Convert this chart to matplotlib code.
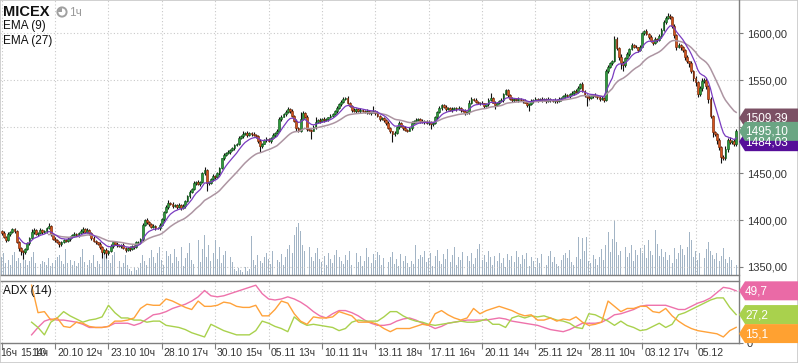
import numpy as np
import pandas as pd
import matplotlib
matplotlib.use("Agg")
import matplotlib.pyplot as plt
import matplotlib.transforms as mtransforms
from matplotlib.patches import Polygon, Circle, Wedge, Rectangle
from matplotlib.lines import Line2D

plt.rcParams['font.family'] = ['Liberation Sans', 'DejaVu Sans']

# ---------------- data ----------------
title = "MICEX"
interval = "1ч"
open0 = 1388
close = [
    1386, 1382, 1379, 1385, 1387, 1390, 1388, 1376, 1370, 1367,
    1366, 1369, 1375, 1381, 1387, 1389, 1385, 1386, 1389, 1387,
    1388, 1391, 1394, 1385, 1380, 1379, 1377, 1374, 1376, 1379,
    1378, 1380, 1382, 1384, 1385, 1384, 1386, 1388, 1390, 1387,
    1389, 1386, 1381, 1378, 1376, 1374, 1371, 1366, 1368, 1365,
    1367, 1372, 1376, 1374, 1373, 1372, 1373, 1370, 1368, 1370,
    1369, 1372, 1371, 1376, 1377, 1380, 1395, 1400, 1398, 1396,
    1393, 1394, 1392, 1391, 1395, 1401, 1409, 1414, 1418, 1417,
    1415, 1416, 1414, 1416, 1413, 1415, 1420, 1426, 1430, 1433,
    1440, 1441, 1439, 1441, 1450, 1454, 1440, 1440, 1444, 1447,
    1446, 1450, 1456, 1466, 1470, 1472, 1473, 1475, 1477, 1480,
    1482, 1488, 1490, 1492, 1493, 1491, 1493, 1492, 1491, 1490,
    1485, 1479, 1482, 1486, 1487, 1485, 1488, 1491, 1493, 1496,
    1508, 1511, 1514, 1516, 1519, 1517, 1512, 1506, 1499, 1496,
    1508, 1515, 1511, 1498, 1497, 1496, 1500, 1505, 1507, 1506,
    1508, 1507, 1508, 1510, 1512, 1514, 1517, 1520, 1524, 1527,
    1530, 1531, 1526, 1522, 1518, 1517, 1519, 1517, 1518, 1517,
    1516, 1517, 1515, 1516, 1517, 1515, 1512, 1508, 1509, 1507,
    1504, 1499, 1495, 1492, 1493, 1500, 1504, 1501, 1499, 1497,
    1496, 1499, 1504, 1506, 1507, 1508, 1506, 1505, 1506, 1504,
    1505, 1503, 1504, 1510, 1516, 1520, 1523, 1521, 1519, 1520,
    1518, 1519, 1520, 1519, 1520, 1518, 1517, 1515, 1516, 1526,
    1530, 1529, 1527, 1525, 1526, 1525, 1522, 1524, 1529, 1531,
    1526, 1523, 1526, 1528, 1529, 1535, 1539, 1534, 1530, 1529,
    1530, 1529, 1530, 1529, 1528, 1526, 1523, 1524, 1528, 1529,
    1530, 1529, 1530, 1529, 1530, 1528, 1530, 1529, 1528, 1529,
    1528, 1530, 1531, 1533, 1534, 1533, 1535, 1536, 1538, 1537,
    1542, 1546, 1538, 1534, 1532, 1531, 1533, 1534, 1533, 1532,
    1530, 1531, 1529, 1560, 1564, 1568, 1570, 1594, 1584, 1575,
    1568, 1566, 1574, 1578, 1583, 1588, 1586, 1585, 1582, 1586,
    1600, 1603, 1599, 1596, 1592, 1590, 1594, 1593, 1597, 1604,
    1612, 1617, 1619, 1618, 1608, 1598, 1586, 1588, 1585, 1582,
    1575, 1570, 1568, 1560, 1552, 1548, 1535, 1542, 1549, 1550,
    1544, 1530, 1512, 1494, 1492, 1486, 1478, 1468, 1466, 1476,
    1486, 1484, 1485, 1481, 1495.1,
]
upper_wick = [
    1, 2, 1, 2, 1, 2, 1, 1, 2, 1,
    1, 1, 2, 1, 3, 2, 1, 1, 2, 1,
    1, 2, 3, 1, 1, 2, 1, 1, 2, 1,
    1, 2, 1, 1, 2, 1, 1, 2, 3, 1,
    2, 1, 1, 2, 1, 1, 2, 1, 1, 2,
    1, 2, 1, 1, 2, 1, 1, 2, 1, 1,
    2, 1, 1, 2, 1, 1, 2, 1, 2, 1,
    1, 2, 1, 1, 2, 1, 1, 2, 3, 1,
    2, 1, 1, 2, 1, 2, 1, 1, 2, 1,
    2, 1, 2, 1, 2, 3, 1, 2, 1, 2,
    1, 2, 1, 1, 2, 1, 2, 1, 1, 2,
    1, 2, 1, 3, 1, 2, 1, 1, 2, 1,
    1, 2, 1, 1, 2, 1, 1, 2, 1, 2,
    3, 2, 1, 2, 2, 1, 2, 1, 2, 1,
    8, 2, 1, 2, 1, 1, 2, 5, 1, 2,
    1, 2, 1, 1, 2, 1, 1, 2, 1, 2,
    2, 1, 2, 1, 1, 2, 1, 1, 2, 1,
    1, 2, 1, 1, 5, 1, 2, 1, 1, 2,
    1, 2, 1, 1, 2, 1, 2, 1, 1, 2,
    1, 1, 2, 1, 2, 1, 1, 2, 1, 1,
    2, 1, 1, 2, 1, 2, 1, 1, 2, 1,
    1, 2, 1, 1, 2, 1, 1, 2, 1, 3,
    2, 1, 2, 1, 1, 2, 1, 1, 2, 5,
    1, 2, 1, 1, 2, 1, 2, 1, 1, 2,
    1, 1, 2, 1, 1, 2, 1, 1, 2, 1,
    2, 1, 1, 2, 1, 1, 2, 1, 1, 2,
    1, 2, 1, 1, 2, 1, 1, 2, 1, 2,
    2, 1, 2, 1, 1, 2, 1, 1, 2, 1,
    1, 2, 1, 2, 2, 1, 2, 3, 2, 1,
    3, 2, 1, 2, 1, 2, 1, 2, 1, 2,
    2, 1, 2, 1, 2, 1, 2, 1, 2, 2,
    2, 2, 3, 2, 1, 2, 1, 2, 1, 2,
    1, 2, 1, 2, 1, 2, 1, 2, 3, 2,
    2, 1, 2, 1, 2, 1, 2, 1, 2, 3,
    2, 3, 1, 2, 2,
]
lower_wick = [
    2, 1, 3, 1, 2, 1, 2, 1, 3, 4,
    8, 2, 1, 2, 1, 2, 1, 2, 1, 2,
    1, 2, 1, 2, 1, 2, 2, 3, 2, 1,
    2, 1, 2, 1, 2, 1, 2, 1, 2, 1,
    1, 2, 2, 1, 2, 1, 2, 7, 2, 6,
    2, 1, 2, 1, 2, 1, 2, 1, 2, 1,
    2, 1, 2, 1, 2, 1, 2, 1, 2, 2,
    1, 2, 3, 1, 2, 1, 2, 1, 2, 1,
    2, 1, 2, 1, 2, 1, 2, 1, 2, 1,
    1, 2, 1, 2, 1, 2, 9, 2, 1, 2,
    2, 1, 2, 1, 2, 1, 1, 2, 1, 2,
    1, 2, 1, 2, 1, 2, 1, 2, 1, 2,
    2, 6, 2, 1, 2, 1, 2, 1, 2, 1,
    1, 2, 1, 2, 1, 2, 2, 1, 3, 2,
    2, 1, 2, 3, 2, 9, 1, 2, 1, 2,
    1, 2, 1, 2, 1, 2, 1, 2, 1, 2,
    2, 1, 2, 1, 2, 1, 2, 1, 2, 1,
    1, 2, 1, 2, 1, 2, 1, 2, 1, 2,
    2, 1, 2, 8, 2, 1, 2, 1, 2, 1,
    2, 1, 2, 1, 2, 1, 2, 1, 2, 1,
    2, 5, 2, 1, 2, 1, 2, 1, 2, 1,
    1, 2, 1, 2, 1, 2, 1, 2, 1, 2,
    2, 1, 2, 1, 2, 1, 2, 1, 2, 1,
    1, 4, 1, 2, 1, 2, 1, 2, 1, 2,
    2, 1, 2, 1, 2, 1, 2, 6, 1, 2,
    1, 2, 1, 2, 1, 2, 1, 2, 1, 2,
    2, 1, 2, 1, 2, 1, 2, 1, 2, 1,
    1, 2, 1, 2, 10, 2, 1, 2, 1, 2,
    2, 1, 2, 1, 2, 1, 2, 1, 2, 3,
    6, 6, 2, 1, 2, 1, 2, 1, 2, 1,
    1, 2, 1, 2, 1, 2, 1, 2, 1, 2,
    1, 2, 1, 2, 2, 3, 4, 2, 3, 2,
    3, 2, 4, 2, 3, 4, 3, 2, 4, 2,
    3, 4, 3, 5, 2, 4, 3, 7, 2, 2,
    3, 2, 3, 2, 2,
]
volume = [
    18, 22, 12, 15, 10, 20, 23, 14, 17, 12,
    20, 15, 10, 14, 18, 23, 12, 16, 11, 14,
    13, 10, 17, 9, 12, 15, 18, 20, 14, 11,
    26, 12, 15, 10, 14, 9, 12, 18, 26, 13,
    10, 15, 12, 20, 8, 14, 11, 17, 22, 19,
    15, 12, 20, 23, 18, 14, 8, 12, 20, 10,
    6, 4, 8, 5, 7, 12, 20, 14, 10, 17,
    25, 18, 12, 22, 28, 15, 10, 24, 19, 21,
    12, 26, 18, 14, 28, 9, 17, 22, 32, 15,
    11, 20, 35, 13, 26, 40, 18, 30, 14, 22,
    35, 16, 28, 12, 20, 24, 9, 18, 13, 6,
    4, 7, 5, 3, 8, 4, 6, 39, 15, 10,
    20, 14, 12, 18, 22, 16, 11, 24, 19, 15,
    13, 21, 10, 18, 26, 30, 22, 40, 48, 52,
    44, 30, 24, 20, 28, 18, 14, 22, 27, 16,
    13, 19, 10, 22, 16, 12, 20, 25, 18, 14,
    11, 20, 15, 24, 10, 16, 22, 13, 19, 9,
    14, 27, 18, 12, 21, 15, 23, 20, 10, 17,
    29, 13, 18, 23, 11, 16, 9, 21, 14, 19,
    12, 8, 14, 11, 30, 16, 20, 18, 24, 13,
    17, 22, 9, 19, 25, 14, 11, 21, 16, 26,
    13, 20, 28, 10, 18, 15, 23, 12, 19, 14,
    22, 11, 17, 26, 31, 15, 20, 13, 24, 18,
    10, 19, 14, 22, 12, 17, 8, 21, 15, 19,
    13, 24, 18, 11, 20, 16, 22, 9, 18, 14,
    8, 17, 12, 21, 15, 10, 19, 24, 13, 18,
    11, 9, 15, 20, 22, 17, 25, 13, 10, 18,
    38, 16, 37, 24, 38, 14, 12, 20, 16, 10,
    18, 26, 15, 30, 43, 23, 36, 55, 33, 20,
    24, 16, 28, 18, 22, 30, 14, 25, 20, 27,
    22, 30, 17, 35, 24, 20, 45, 31, 19, 26,
    18, 23, 15, 20, 12, 27, 16, 22, 30, 26,
    20, 28, 43, 35, 18, 24, 15, 22, 13, 17,
    26, 33, 24, 20, 16, 22, 14, 19, 27, 16,
    12, 18, 15, 20, 10,
]
adx_line = [
    8, 15, 21, 23, 22, 22, 21, 20, 18, 15,
    15, 15, 16, 19, 19, 19, 17, 19, 23, 27,
    28, 30, 33, 35, 37, 40, 44, 50, 45, 44,
    45, 47, 49, 51, 53, 55, 47, 42, 41, 42,
    44, 42, 39, 35, 30, 26, 24, 28, 31, 31,
    29, 26, 22, 19, 17, 17, 18, 21, 23, 24,
    22, 19, 17, 14, 16, 19, 20, 21, 22, 22,
    22, 22, 23, 24, 23, 21, 20, 19, 18, 17,
    15, 13, 12, 11, 13, 16, 19, 19, 19, 20,
    23, 27, 28, 30, 32, 35, 36, 36, 36, 36,
    34, 32, 32, 35, 38, 40, 43, 48, 53, 52,
    49.7,
]
minus_di = [
    20, 15, 8, 20, 24, 30, 26, 23, 20, 22,
    23, 25, 36, 29, 24, 24, 22, 22, 20, 21,
    21, 17, 16, 15, 13, 10, 8, 6, 18, 15,
    12, 10, 8, 8, 8, 12, 21, 19, 16, 14,
    11, 25, 20, 17, 18, 17, 16, 15, 12, 14,
    20, 22, 21, 21, 21, 25, 30, 30, 26, 23,
    21, 20, 18, 17, 18, 19, 20, 21, 20, 20,
    21, 23, 18, 18, 15, 24, 26, 24, 26, 25,
    26, 24, 22, 21, 19, 15, 14, 28, 27, 24,
    21, 17, 21, 17, 15, 12, 13, 16, 19, 15,
    18, 27, 29, 32, 35, 38, 41, 43, 43, 34,
    27.2,
]
plus_di = [
    55, 29, 30, 22, 24, 16, 15, 20, 19, 16,
    15, 15, 16, 21, 21, 22, 24, 33, 37, 36,
    36, 42, 40, 37, 34, 32, 40, 35, 35, 36,
    39, 38, 35, 34, 34, 36, 26, 26, 32, 40,
    38, 28, 21, 18, 25, 24, 24, 25, 30, 28,
    26, 20, 20, 20, 18, 14, 11, 14, 14, 14,
    16, 18, 17, 28, 31, 27, 24, 22, 24, 33,
    28, 31, 33, 35, 33, 31, 28, 26, 27, 22,
    22, 24, 21, 23, 22, 25, 20, 17, 18, 20,
    40, 35, 30, 33, 33, 35, 35, 30, 29, 33,
    26, 21, 17, 14, 12, 11, 10, 9, 6, 12,
    15.1,
]
ema_fast, ema_slow = 9, 27
price_tags = [("1484,03", 1484.03, "#560e99"),
              ("1509.39", 1509.39, "#7b5064"),
              ("1495,10", 1495.10, "#6aa583")]
adx_tags = [("49,7", 49.7, "#ea6aa6"),
            ("27,2", 27.2, "#a9d14d"),
            ("15,1", 15.1, "#ffa131")]
price_ticks = [1350, 1400, 1450, 1500, 1550, 1600]
tick_labels = ["16ч", "15.10", "14ч", "20.10", "12ч", "23.10", "10ч", "28.10",
               "17ч", "30.10", "15ч", "05.11", "13ч", "10.11", "11ч", "13.11",
               "18ч", "17.11", "16ч", "20.11", "14ч", "25.11", "12ч", "28.11",
               "10ч", "03.12", "17ч", "05.12"]
tick_bars = [-0.6, 8.6, 13.9, 25.9, 38.9, 50.9, 63.9, 75.9, 88.9, 100.9,
             113.9, 125.9, 138.9, 150.9, 163.9, 175.9, 188.9, 200.9, 213.9,
             225.9, 238.9, 250.9, 263.9, 275.9, 288.9, 300.9, 313.9, 325.9]
major_bars = [0, 25, 50, 75, 100, 125, 150, 175, 200, 225, 250, 275, 300, 325]
ADX_START, ADX_STEP = 14, 3

# ---------------- derived ----------------
c = np.array(close, dtype=float)
n = len(c)
idx = np.arange(n)
o = np.r_[open0, c[:-1]]
hi = np.maximum(o, c) + np.array(upper_wick)
lo = np.minimum(o, c) - np.array(lower_wick)
up = c >= o
e9 = pd.Series(c).ewm(span=ema_fast, adjust=False).mean().values
e27 = pd.Series(c).ewm(span=ema_slow, adjust=False).mean().values
adx_x = np.arange(ADX_START, n, ADX_STEP)

# ---------------- layout ----------------
W, H = 798, 363
fig = plt.figure(figsize=(W / 100, H / 100), dpi=100)
fig.patch.set_facecolor("white")


def frect(x0, y0, x1, y1):
    return [x0 / W, 1 - y1 / H, (x1 - x0) / W, (y1 - y0) / H]


XR = 738.5
XLIM = (-0.8, 345.1)
GRID = dict(color="#c9c9c9", lw=0.8, ls=(0, (1, 2)), zorder=0)
AXC = "#7f7f7f"

axv = fig.add_axes(frect(0, 0, XR, 275))
ax = fig.add_axes(frect(0, 0, XR, 275), sharex=axv)
adx = fig.add_axes(frect(0, 281, XR, 343.3))

# volume (behind)
axv.set_xlim(*XLIM)
axv.set_ylim(0, 275)
for b in major_bars:
    axv.axvline(b, **GRID)
axv.bar(idx, volume, width=0.45, color="#a2b4c5", zorder=1)
axv.axis("off")

# price panel
ax.patch.set_visible(False)
ax.set_ylim(1341.1, 1635.9)
for p in price_ticks:
    ax.axhline(p, **GRID)
ax.vlines(idx, lo, hi, color="#111111", lw=0.8, zorder=2)
body_h = np.maximum(np.abs(c - o), 0.8)
body_b = np.minimum(o, c)
ax.bar(idx, body_h, bottom=body_b, width=0.85,
       color=np.where(up, "#2f9a3c", "#d4541c"),
       edgecolor=np.where(up, "#125a1e", "#7a2a0a"), linewidth=0.45, zorder=3)
ax.plot(idx[22:], e27[22:], color="#ad95a2", lw=1.1, zorder=4)
ax.plot(idx[8:], e9[8:], color="#7a3cc0", lw=0.9, zorder=5)
ax.yaxis.tick_right()
ax.set_yticks(price_ticks)
ax.set_yticklabels([f"{p:.2f}".replace(".", ",") for p in price_ticks])
ax.tick_params(axis="y", labelsize=8, colors="#333333", length=3, pad=3, width=0.8)
ax.tick_params(axis="y", color=AXC)
ax.tick_params(axis="x", bottom=False, labelbottom=False)
for s in ["top", "left", "right"]:
    ax.spines[s].set_visible(False)
ax.spines["bottom"].set_color(AXC)
ax.spines["bottom"].set_linewidth(1.0)

# ADX panel
adx.set_xlim(*XLIM)
adx.set_ylim(0, 59)
adx.axhline(50, **GRID)
for b in major_bars:
    adx.axvline(b, **GRID)
adx.plot(adx_x, adx_line, color="#ee72ab", lw=1.0, zorder=3)
adx.plot(adx_x, minus_di, color="#a9d14d", lw=1.0, zorder=3)
adx.plot(adx_x, plus_di, color="#ffa23a", lw=1.0, zorder=3)
adx.yaxis.tick_right()
adx.set_yticks([0])
adx.set_yticklabels(["0"])
adx.tick_params(axis="y", labelsize=8, colors="#333333", length=3, pad=3, width=0.8)
adx.tick_params(axis="y", color=AXC)
adx.set_xticks(major_bars)
adx.set_xticklabels([])
adx.tick_params(axis="x", length=4, width=0.8, color=AXC, direction="out")
adx.spines["left"].set_visible(False)
adx.spines["right"].set_visible(False)
for s in ["top", "bottom"]:
    adx.spines[s].set_color(AXC)
    adx.spines[s].set_linewidth(1.0)
adx.text(3 / XR, 1 - 10 / 62.3, "ADX (14)", transform=adx.transAxes,
         fontsize=8.5, color="#111111", va="center", ha="left", zorder=6)

# continuous right axis line
fig.add_artist(Line2D([XR / W, XR / W], [1 - 343.3 / H, 1], color=AXC, lw=1.0))

# x labels
tr = mtransforms.blended_transform_factory(adx.transData, fig.transFigure)
for lab, b in zip(tick_labels, tick_bars):
    fig.text(b, 1 - 352.5 / H, lab, transform=tr, fontsize=7.5,
             color="#333333", ha="left", va="center")

# header texts
fig.text(3 / W, 1 - 12 / H, title, fontsize=10.5, fontweight="bold",
         color="#111111", ha="left", va="center")
fig.text(69 / W, 1 - 13 / H, interval, fontsize=8.5, color="#9a9a9a",
         ha="left", va="center")
fig.text(3 / W, 1 - 26 / H, f"EMA ({ema_fast})", fontsize=8.5,
         color="#111111", ha="left", va="center")
fig.text(3 / W, 1 - 41 / H, f"EMA ({ema_slow})", fontsize=8.5,
         color="#111111", ha="left", va="center")
ID = mtransforms.IdentityTransform()
cx, cy = 62, H - 12
fig.add_artist(Circle((cx, cy), 4.6, transform=ID, facecolor="white",
                      edgecolor="#a0a0a0", lw=1.4))
fig.add_artist(Wedge((cx, cy), 4.0, 90, 180, transform=ID, facecolor="#a0a0a0",
                     edgecolor="none"))


# value tags
def draw_tag(axis, value, text, color, ypix=None):
    y = axis.transData.transform((0, value))[1] if ypix is None else ypix
    h = 9.5
    pts = [(XR + 0.5, y), (745, y + h), (W, y + h), (W, y - h), (745, y - h)]
    fig.add_artist(Polygon(pts, closed=True, transform=ID, facecolor=color,
                           edgecolor="none", zorder=10))
    fig.text(745, y - 0.5, text, transform=ID, fontsize=8.5, color="white",
             ha="left", va="center", zorder=11)
    return y


for txt, v, col in price_tags:
    draw_tag(ax, v, txt, col)

prev = None
for txt, v, col in adx_tags:
    y = adx.transData.transform((0, v))[1]
    if prev is not None and prev - y < 19:
        y = prev - 19
    prev = draw_tag(adx, v, txt, col, ypix=y)

fig.add_artist(Rectangle((0, 0), 1, 1, transform=fig.transFigure, fill=False,
                         edgecolor="#c8c8c8", lw=1.2))

fig.savefig("out.png", dpi=100, facecolor="white")
